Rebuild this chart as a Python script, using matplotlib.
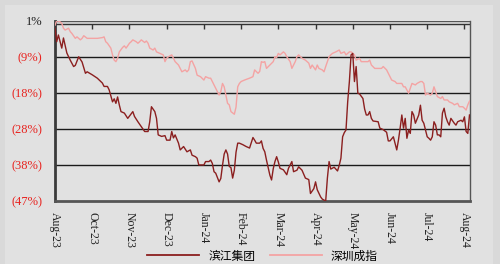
import numpy as np
import matplotlib.pyplot as plt
from matplotlib.patches import Rectangle

plt.rcParams['font.family'] = ['Liberation Serif', 'Noto Sans CJK SC', 'DejaVu Sans']

# trading day index (0 = start of Aug-23) and cumulative return in %
bj_day = [0, 1, 2, 4, 5, 7, 9, 11, 12, 14, 16, 18, 19, 22, 25, 28, 29, 31, 32, 34,
          35, 36, 37, 38, 39, 41, 43, 46, 47, 49, 51, 53, 55, 56, 57, 59, 60, 61, 63, 65,
          66, 68, 69, 70, 71, 73, 74, 76, 78, 80, 81, 83, 84, 85, 88, 89, 91, 92, 93, 94,
          95, 97, 98, 99, 100, 101, 102, 103, 104, 105, 106, 107, 108, 109, 111, 113, 115, 117, 118, 119,
          121, 122, 123, 124, 125, 127, 128, 129, 130, 131, 132, 133, 135, 137, 138, 140, 141, 143, 144, 146,
          148, 150, 151, 153, 154, 155, 157, 158, 160, 161, 162, 163, 165, 167, 168, 169, 170, 171, 172, 173,
          174, 175, 176, 177, 178, 179, 180, 182, 183, 184, 185, 186, 187, 188, 191, 192, 194, 196, 197, 198,
          200, 201, 202, 203, 204, 205, 206, 207, 208, 209, 210, 211, 212, 213, 215, 216, 217, 218, 220, 221,
          222, 223, 224, 225, 226, 227, 228, 229, 230, 231, 232, 233, 234, 236, 237, 238, 240, 241, 242, 243,
          244, 245]
bj_ret = [-1.0, -4.6, -2.8, -6.3, -3.6, -7.6, -9.5, -11.2, -10.9, -8.6, -10.0, -13.0, -12.6, -13.4, -14.3, -15.6, -16.5, -16.5, -17.4, -20.6,
          -19.8, -21.0, -19.3, -21.4, -23.2, -23.6, -25.0, -23.2, -24.5, -25.9, -27.2, -28.5, -28.5, -25.9, -21.9, -23.2, -25.0, -29.4, -29.8, -29.6,
          -30.8, -30.8, -28.5, -30.2, -29.4, -31.6, -33.4, -32.5, -33.9, -33.4, -34.8, -35.2, -35.6, -37.4, -37.4, -36.5, -36.5, -36.1, -37.0, -39.2,
          -39.6, -41.9, -41.0, -37.5, -34.5, -33.4, -34.5, -37.8, -38.1, -40.9, -38.8, -34.0, -31.6, -31.6, -32.0, -32.5, -32.9, -30.1, -30.8, -31.6,
          -31.6, -31.0, -33.0, -33.9, -36.1, -40.1, -41.4, -38.4, -36.5, -35.2, -36.6, -38.3, -38.7, -40.0, -38.3, -36.5, -39.2, -38.8, -37.9, -38.8,
          -40.9, -41.3, -45.0, -43.7, -41.9, -44.0, -45.9, -46.5, -47.0, -40.9, -36.5, -38.5, -38.0, -39.0, -37.5, -35.6, -29.9, -28.8, -28.1, -20.6,
          -15.2, -8.1, -7.7, -15.2, -11.2, -18.3, -18.5, -19.7, -22.5, -24.1, -24.1, -23.2, -25.0, -25.7, -25.9, -27.6, -28.0, -28.7, -31.0, -31.0,
          -29.9, -31.6, -33.4, -30.8, -27.6, -24.1, -27.6, -25.0, -30.3, -28.1, -29.0, -23.2, -24.1, -26.3, -24.1, -21.5, -25.5, -26.3, -29.9, -30.3,
          -30.8, -29.9, -25.9, -26.8, -29.4, -29.4, -29.9, -23.6, -22.3, -24.6, -25.9, -26.8, -25.0, -26.3, -26.8, -25.9, -25.5, -25.9, -24.6, -28.5,
          -29.0, -24.1]

sz_day = [0, 1, 3, 4, 5, 6, 8, 9, 10, 12, 13, 15, 16, 17, 19, 21, 25, 28, 29, 30,
          31, 33, 34, 35, 36, 37, 38, 40, 41, 42, 44, 45, 46, 48, 49, 50, 51, 53, 54, 55,
          56, 58, 59, 60, 62, 64, 65, 66, 67, 69, 70, 71, 73, 74, 75, 77, 78, 79, 80, 81,
          83, 84, 86, 88, 89, 91, 92, 94, 95, 97, 98, 99, 100, 101, 102, 103, 104, 106, 107, 108,
          109, 110, 112, 115, 117, 118, 120, 121, 122, 123, 124, 125, 127, 129, 130, 131, 132, 133, 135, 136,
          137, 139, 140, 142, 143, 144, 146, 148, 150, 151, 152, 154, 155, 156, 158, 159, 160, 162, 163, 164,
          166, 168, 169, 171, 172, 174, 175, 176, 177, 178, 180, 181, 183, 185, 186, 187, 189, 191, 193, 194,
          196, 197, 199, 201, 202, 204, 205, 206, 207, 209, 210, 211, 213, 214, 216, 217, 218, 219, 220, 222,
          223, 224, 225, 226, 228, 229, 230, 232, 233, 235, 236, 238, 239, 241, 242, 243, 244, 245]
sz_ret = [-0.2, 1.0, 0.7, 0.3, -1.0, -1.5, -1.0, -1.9, -2.4, -3.7, -3.3, -4.1, -3.7, -3.0, -3.7, -3.7, -3.7, -3.5, -3.3, -4.6,
          -5.0, -6.3, -8.1, -9.5, -9.9, -9.0, -7.3, -6.1, -5.7, -6.3, -5.0, -4.6, -4.1, -4.6, -5.0, -4.6, -4.1, -4.8, -4.4, -5.0,
          -6.3, -6.8, -6.3, -7.3, -7.7, -8.1, -9.9, -9.0, -8.6, -8.1, -9.0, -9.9, -10.8, -11.7, -12.6, -12.1, -12.6, -12.1, -9.9, -9.7,
          -11.7, -13.5, -13.9, -14.8, -13.9, -14.3, -14.3, -16.1, -17.0, -18.8, -17.9, -15.7, -16.6, -18.8, -21.0, -21.4, -23.2, -23.9, -22.0, -16.6,
          -15.7, -15.2, -14.8, -14.3, -13.9, -12.1, -13.0, -12.5, -9.9, -10.1, -9.9, -11.7, -10.8, -9.9, -8.6, -8.8, -7.7, -8.1, -7.3, -7.7,
          -8.6, -9.9, -11.7, -9.9, -8.6, -8.1, -9.0, -9.5, -10.3, -11.7, -10.8, -12.1, -10.8, -11.7, -12.1, -12.6, -11.2, -8.6, -8.1, -7.7,
          -7.3, -6.8, -7.7, -7.3, -8.1, -7.3, -7.3, -7.7, -8.1, -9.5, -9.0, -9.9, -9.9, -9.9, -9.5, -10.8, -11.7, -11.7, -11.7, -11.2,
          -12.1, -13.0, -14.8, -15.2, -15.7, -15.7, -15.7, -16.6, -16.6, -18.3, -17.0, -15.7, -16.1, -15.7, -15.2, -15.2, -15.7, -18.8, -18.3, -18.8,
          -18.3, -16.6, -17.9, -19.2, -19.7, -19.2, -20.1, -20.1, -20.6, -21.0, -21.4, -21.0, -21.9, -21.9, -22.3, -22.8, -21.4, -20.4]

month_labels = ['Aug-23', 'Oct-23', 'Nov-23', 'Dec-23', 'Jan-24', 'Feb-24',
                'Mar-24', 'Apr-24', 'May-24', 'Jun-24', 'Jul-24', 'Aug-24']
y_ticks = np.linspace(1, -47, 6)
y_labels = ['1%', '(9%)', '(18%)', '(28%)', '(38%)', '(47%)']

fig = plt.figure(figsize=(5, 2.64), dpi=100, facecolor='#d9d9d9')
fig.patches.append(Rectangle((0.01, 0.0), 0.975, 0.98, transform=fig.transFigure,
                             facecolor='#e1e1e1', edgecolor='none', zorder=-5))
ax = fig.add_axes([0.11, 0.2386, 0.829, 0.683])
ax.set_zorder(2)
ax.set_facecolor('#e1e1e1')

for y in y_ticks[1:-1]:
    ax.axhline(y, color='#1a1a1a', lw=1.0, zorder=1)
ax.axhline(y_ticks[0], color='#555555', lw=1.0, zorder=1)
ax.axhline(0, color='#333333', lw=1.0, zorder=1)

tick_pos = np.arange(len(month_labels)) * 22
ax.vlines(tick_pos[1:], -1.3, 0, color='#333333', lw=1.0, zorder=1)

ax.plot(sz_day, sz_ret, color='#f4a3a3', lw=1.0, zorder=3)
ax.plot(bj_day, bj_ret, color='#8b1f1f', lw=1.0, zorder=4)

ax.set_xlim(0, 245)
ax.set_ylim(-47, 1)

ax.set_yticks(y_ticks)
ax.set_yticklabels(y_labels, fontsize=9)
for lab in ax.get_yticklabels()[1:]:
    lab.set_color('#e8231f')
ax.get_yticklabels()[0].set_color('#222222')
ax.tick_params(axis='y', length=0, pad=9)

ax.set_xticks(tick_pos)
ax.set_xticklabels(month_labels, rotation=270, fontsize=8.5, color='#222222')
ax.tick_params(axis='x', length=0, pad=8)

ax.spines['left'].set_linewidth(2.0)
ax.spines['left'].set_color('#3a3a3a')
ax.spines['bottom'].set_linewidth(2.0)
ax.spines['bottom'].set_color('#555555')
ax.spines['right'].set_linewidth(1.0)
ax.spines['right'].set_color('#555555')
ax.spines['top'].set_visible(False)

handles = ax.get_lines()
leg = fig.legend([handles[-1], handles[-2]], ['滨江集团', '深圳成指'],
                 loc='center', bbox_to_anchor=(0.525, 0.03), ncol=2,
                 frameon=False, handlelength=4.4, columnspacing=1.2,
                 borderpad=0.1, prop={'family': ['Noto Sans CJK SC'], 'size': 8.5})
for line in leg.get_lines():
    line.set_linewidth(1.3)

fig.savefig('out.png', dpi=100, facecolor=fig.get_facecolor())
